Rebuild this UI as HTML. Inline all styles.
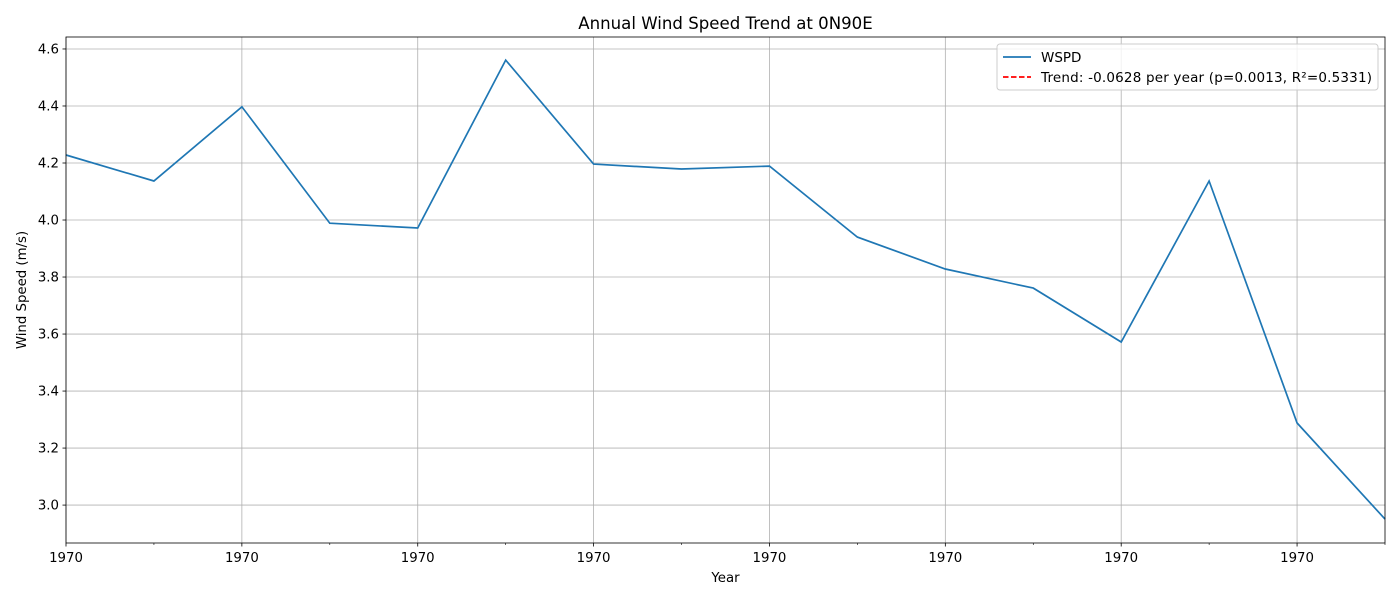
<!DOCTYPE html>
<html><head><meta charset="utf-8"><style>
body{margin:0;background:#fff;font-family:"Liberation Sans","DejaVu Sans",sans-serif;}
svg text{font-family:"DejaVu Sans","Liberation Sans",sans-serif;}
</style></head><body>
<svg id="chart" width="1400" height="600" xmlns="http://www.w3.org/2000/svg">
<rect width="1400" height="600" fill="#fff"/>
<g id="grid"></g>
<g id="axes"></g>
<path id="line" fill="none" stroke="#1f77b4" stroke-width="1.7"/>
<rect x="66" y="37" width="1319" height="506" fill="none" stroke="#000" stroke-width="0.8"/>
<text x="725.5" y="29" text-anchor="middle" font-size="16.6">Annual Wind Speed Trend at 0N90E</text>
<text x="725.5" y="582" text-anchor="middle" font-size="13.3">Year</text>
<text x="26" y="290" text-anchor="middle" font-size="13.3" transform="rotate(-90 26 290)">Wind Speed (m/s)</text>
<g>
<rect x="997" y="44" width="381" height="46" rx="3" fill="#fff" fill-opacity="0.8" stroke="#ccc"/>
<line x1="1003" y1="57" x2="1031" y2="57" stroke="#1f77b4" stroke-width="1.7"/>
<text x="1041" y="62" font-size="13.5">WSPD</text>
<line x1="1003" y1="77" x2="1031" y2="77" stroke="red" stroke-width="1.7" stroke-dasharray="5.5,2.5"/>
<text x="1041" y="82" font-size="13.5" textLength="331">Trend: -0.0628 per year (p=0.0013, R²=0.5331)</text>
</g>
</svg>
<script>
const years = [0,1,2,3,4,5,6,7,8,9,10,11,12,13,14,15];
const wspd = [4.228,4.137,4.397,3.989,3.972,4.561,4.196,4.179,4.189,3.940,3.828,3.761,3.572,4.137,3.288,2.951];
const yTicks = [3.0,3.2,3.4,3.6,3.8,4.0,4.2,4.4,4.6];
const xTickLabels = ["1970","1970","1970","1970","1970","1970","1970","1970"];
const NS="http://www.w3.org/2000/svg";
const X0=66,X1=1385,Y0=543,Y1=37;
const xMin=0,xMax=15,yMin=2.867,yMax=4.642;
const xs=v=>X0+(v-xMin)/(xMax-xMin)*(X1-X0);
const ys=v=>Y0-(v-yMin)/(yMax-yMin)*(Y0-Y1);
const grid=document.getElementById('grid'),axes=document.getElementById('axes');
function mk(t,a,p){const e=document.createElementNS(NS,t);for(const k in a)e.setAttribute(k,a[k]);p.appendChild(e);return e;}
yTicks.forEach(v=>{const y=ys(v);
 const g=mk('line',{x1:X0,x2:X1,y1:y,y2:y,stroke:'#b0b0b0','stroke-width':0.8},grid);
 
 
 mk('line',{x1:X0-3.5,x2:X0,y1:y,y2:y,stroke:'#000','stroke-width':0.8},axes);
 const t=mk('text',{x:X0-7,y:y+4.5,'text-anchor':'end','font-size':13.3},axes);t.textContent=v.toFixed(1);
 
 
});
years.forEach((v,i)=>{const x=xs(v);
 if(i%2===0){
  const g=mk('line',{x1:x,x2:x,y1:Y1,y2:Y0,stroke:'#b0b0b0','stroke-width':0.8},grid);
  
  
  mk('line',{x1:x,x2:x,y1:Y0,y2:Y0+3.5,stroke:'#000','stroke-width':0.8},axes);
  const t=mk('text',{x:x,y:Y0+19,'text-anchor':'middle','font-size':13.3},axes);t.textContent=xTickLabels[i/2];
  
  
 } else mk('line',{x1:x,x2:x,y1:Y0,y2:Y0+2,stroke:'#000','stroke-width':0.6},axes);
});
document.getElementById('line').setAttribute('d',wspd.map((v,i)=>(i?'L':'M')+xs(years[i]).toFixed(1)+','+ys(v).toFixed(1)).join(''));
</script>
</body></html>
